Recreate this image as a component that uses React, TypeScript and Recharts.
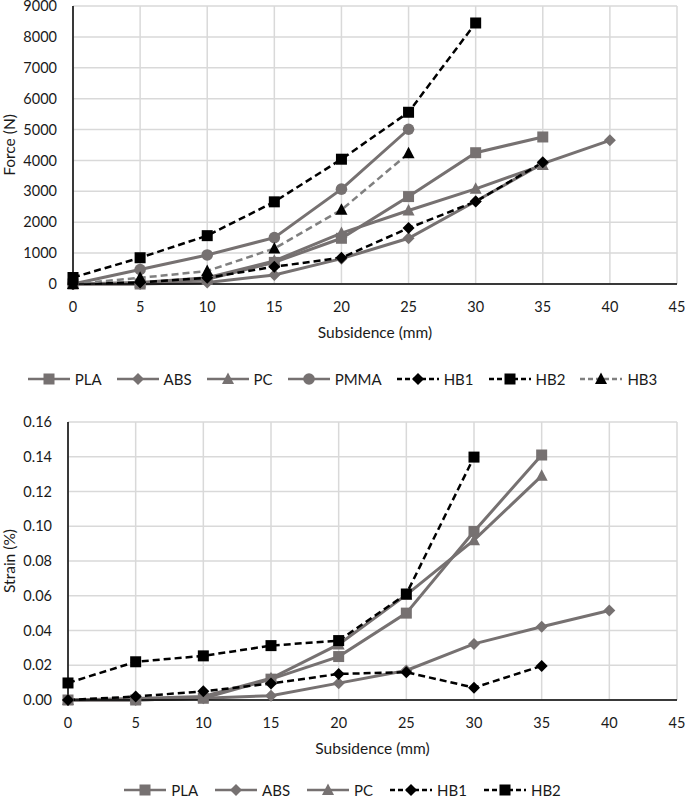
import React from "react";
import { LineChart, Line, XAxis, YAxis, CartesianGrid, Legend } from "recharts";

// x positions (mm)
const subsidence = [0, 5, 10, 15, 20, 25, 30, 35, 40];
const xTicks = [0, 5, 10, 15, 20, 25, 30, 35, 40, 45];

// Force (N), one value per subsidence step
const forcePLA = [0, 0, 150, 700, 1480, 2830, 4250, 4760];
const forceABS = [0, 0, 50, 290, 820, 1480, 2680, 3900, 4650];
const forcePC = [0, 50, 200, 750, 1650, 2380, 3080, 3850];
const forcePMMA = [0, 470, 940, 1500, 3070, 5010];
const forceHB1 = [0, 50, 200, 560, 850, 1810, 2670, 3940];
const forceHB2 = [210, 850, 1565, 2660, 4040, 5560, 8450];
const forceHB3 = [0, 200, 420, 1150, 2400, 4230];
const forceTicks = [0, 1000, 2000, 3000, 4000, 5000, 6000, 7000, 8000, 9000];

// Strain (%)
const strainPLA = [0, 0, 0.001, 0.012, 0.025, 0.05, 0.097, 0.141];
const strainABS = [0, 0, 0.001, 0.0025, 0.0097, 0.017, 0.0323, 0.0422, 0.0515];
const strainPC = [0, 0.0008, 0.002, 0.0125, 0.032, 0.0605, 0.092, 0.129];
const strainHB1 = [0, 0.002, 0.005, 0.0095, 0.015, 0.016, 0.0071, 0.0196];
const strainHB2 = [0.0098, 0.022, 0.0254, 0.0313, 0.0342, 0.061, 0.1398];
const strainTicks = [0, 0.02, 0.04, 0.06, 0.08, 0.1, 0.12, 0.14, 0.16];

const GREY = "#767171";
const BLACK = "#000000";
const FONT = "Lato, 'Open Sans', sans-serif";
const TEXT = "#1a1a1a";

type Shape = "square" | "diamond" | "triangle" | "circle";
type Series = { name: string; values: number[]; stroke: string; dash?: string; shape: Shape; fill: string };

const forceSeries: Series[] = [
  { name: "PLA", values: forcePLA, stroke: GREY, shape: "square", fill: GREY },
  { name: "ABS", values: forceABS, stroke: GREY, shape: "diamond", fill: GREY },
  { name: "PC", values: forcePC, stroke: GREY, shape: "triangle", fill: GREY },
  { name: "PMMA", values: forcePMMA, stroke: GREY, shape: "circle", fill: GREY },
  { name: "HB1", values: forceHB1, stroke: BLACK, dash: "7 4", shape: "diamond", fill: BLACK },
  { name: "HB2", values: forceHB2, stroke: BLACK, dash: "7 4", shape: "square", fill: BLACK },
  { name: "HB3", values: forceHB3, stroke: "#808080", dash: "7 4", shape: "triangle", fill: BLACK },
];

const strainSeries: Series[] = [
  { name: "PLA", values: strainPLA, stroke: GREY, shape: "square", fill: GREY },
  { name: "ABS", values: strainABS, stroke: GREY, shape: "diamond", fill: GREY },
  { name: "PC", values: strainPC, stroke: GREY, shape: "triangle", fill: GREY },
  { name: "HB1", values: strainHB1, stroke: BLACK, dash: "7 4", shape: "diamond", fill: BLACK },
  { name: "HB2", values: strainHB2, stroke: BLACK, dash: "7 4", shape: "square", fill: BLACK },
];

function buildRows(series: Series[]) {
  return subsidence.map((x, i) => {
    const row: Record<string, number | null> = { x };
    series.forEach((s) => {
      row[s.name] = i < s.values.length ? s.values[i] : null;
    });
    return row;
  });
}

function Marker({ shape, cx, cy, fill }: { shape: Shape; cx: number; cy: number; fill: string }) {
  if (shape === "square") return <rect x={cx - 5.5} y={cy - 5.5} width={11} height={11} fill={fill} />;
  if (shape === "diamond")
    return <polygon points={`${cx},${cy - 6} ${cx + 6},${cy} ${cx},${cy + 6} ${cx - 6},${cy}`} fill={fill} />;
  if (shape === "triangle")
    return <polygon points={`${cx},${cy - 6.5} ${cx + 6},${cy + 5} ${cx - 6},${cy + 5}`} fill={fill} />;
  return <circle cx={cx} cy={cy} r={5.8} fill={fill} />;
}

function LegendRow({ series, gap }: { series: Series[]; gap: number }) {
  return (
    <div style={{ display: "flex", justifyContent: "center", alignItems: "center", gap, fontFamily: FONT, fontSize: 15, color: TEXT, height: 18 }}>
      {series.map((s) => (
        <div key={s.name} style={{ display: "flex", alignItems: "center" }}>
          <svg width={42} height={14}>
            <line x1={0} y1={7} x2={42} y2={7} stroke={s.stroke} strokeWidth={2.5} strokeDasharray={s.dash ? "5 3" : undefined} />
            <Marker shape={s.shape} cx={21} cy={7} fill={s.fill} />
          </svg>
          <span style={{ marginLeft: 5, lineHeight: "18px" }}>{s.name}</span>
        </div>
      ))}
    </div>
  );
}

function Panel({ series, yTicks, yLabel, yWidth, fmt, top, bottom, legendTop, gap }: {
  series: Series[]; yTicks: number[]; yLabel: string; yWidth: number; fmt: (v: number) => string;
  top: number; bottom: number; legendTop: number; gap: number;
}) {
  const data = buildRows(series);
  const yMax = yTicks[yTicks.length - 1];
  const tickStyle = { fontSize: 14.5, fill: TEXT, fontFamily: FONT };
  return (
    <LineChart width={685} height={400} data={data} margin={{ top, right: 8, left: 0, bottom }}>
      <CartesianGrid stroke="#d9d9d9" strokeWidth={1.5} />
      <XAxis
        dataKey="x"
        type="number"
        domain={[0, 45]}
        ticks={xTicks}
        height={60}
        tickLine={false}
        tickSize={15}
        tickMargin={3}
        axisLine={{ stroke: "#000", strokeWidth: 1.5 }}
        tick={tickStyle}
        label={{ value: "Subsidence (mm)", position: "insideTop", offset: 43, style: { fontSize: 15.5, fill: TEXT, fontFamily: FONT } }}
      />
      <XAxis xAxisId="top" orientation="top" type="number" domain={[0, 45]} height={0} tick={false} tickLine={false} axisLine={{ stroke: "#404040", strokeWidth: 1.5 }} />
      <YAxis
        domain={[0, yMax]}
        ticks={yTicks}
        width={yWidth}
        tickLine={false}
        tickSize={14}
        tickMargin={2}
        interval={0}
        tickFormatter={fmt}
        axisLine={{ stroke: "#000", strokeWidth: 1.5 }}
        tick={tickStyle}
        label={{ value: yLabel, angle: -90, position: "insideLeft", offset: 9, style: { textAnchor: "middle", fontSize: 15.5, fill: TEXT, fontFamily: FONT } }}
      />
      <YAxis yAxisId="right" orientation="right" domain={[0, yMax]} width={0} tick={false} tickLine={false} axisLine={{ stroke: "#404040", strokeWidth: 1.5 }} />
      <Legend
        layout="horizontal"
        verticalAlign="middle"
        align="center"
        wrapperStyle={{ top: legendTop, left: 0, width: 685 }}
        content={() => <LegendRow series={series} gap={gap} />}
      />
      {series.map((s) => (
        <Line
          key={s.name}
          dataKey={s.name}
          type="linear"
          stroke={s.stroke}
          strokeWidth={s.dash ? 2.5 : 3}
          strokeDasharray={s.dash}
          isAnimationActive={false}
          legendType="none"
          dot={(p: any) =>
            p.cx == null || p.cy == null || p.value == null ? (
              <g key={`${s.name}-${p.index}`} />
            ) : (
              <g key={`${s.name}-${p.index}`}>
                <Marker shape={s.shape} cx={p.cx} cy={p.cy} fill={s.fill} />
              </g>
            )
          }
          activeDot={false}
        />
      ))}
    </LineChart>
  );
}

export default function App() {
  return (
    <div style={{ position: "absolute", left: 0, top: 0, width: 685, height: 800, background: "#fff", fontFamily: FONT }}>
      <div style={{ position: "absolute", left: 0, top: 0 }}>
        <Panel series={forceSeries} yTicks={forceTicks} yLabel="Force (N)" yWidth={73} fmt={(v) => String(v)} top={6} bottom={56} legendTop={370} gap={15} />
      </div>
      <div style={{ position: "absolute", left: 0, top: 400 }}>
        <Panel series={strainSeries} yTicks={strainTicks} yLabel="Strain (%)" yWidth={68} fmt={(v) => v.toFixed(2)} top={22} bottom={40} legendTop={381} gap={17} />
      </div>
    </div>
  );
}
